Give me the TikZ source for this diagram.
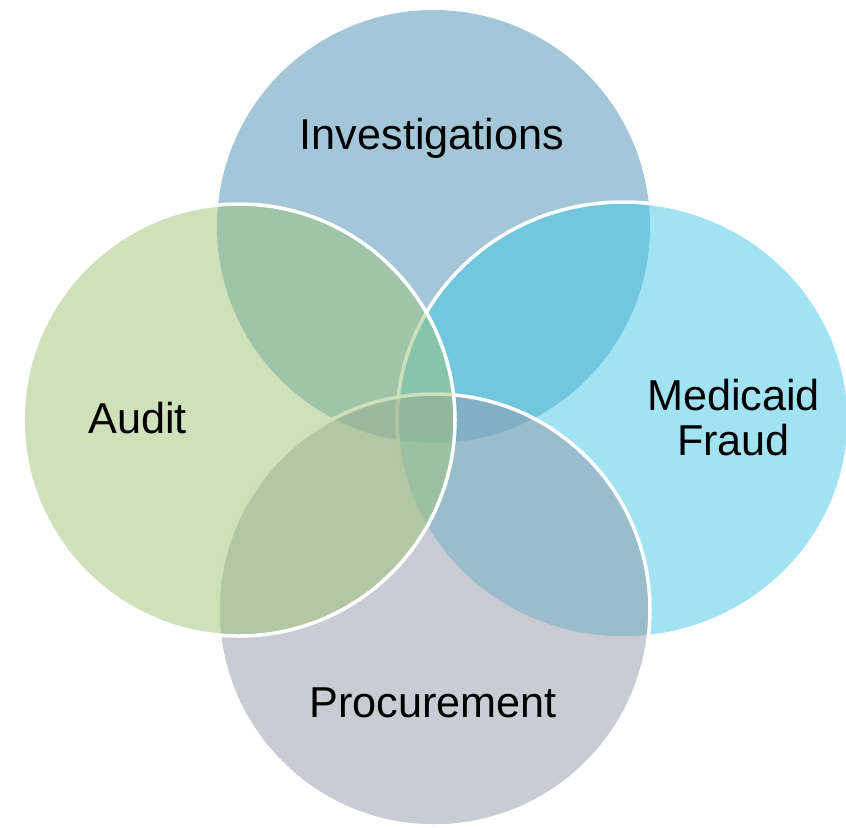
\documentclass[tikz,border=0pt]{standalone}
\usepackage{fontspec}
\setmainfont{Liberation Sans}
\begin{document}
\begin{tikzpicture}[]
			\definecolor{xanh}{RGB}{71,143,179}
			\definecolor{xanhnhat}{RGB}{67,199,229}
			\definecolor{xam}{RGB}{147,153,167}
			\definecolor{xanhla}{RGB}{159,195,119}
			\tikzset{
				vong/.style={fill opacity=0.5,line width=1pt},
				chu/.style={font=\fontsize{12.3}{12.8}\selectfont,text=black,align=center}
			}
			\useasboundingbox (0,0) rectangle (8.46,8.27);
			
			%Vòng tròn: trên, phải, dưới, trái
			\foreach \x/\y/\rx/\ry/\mau/\vien in {
				4.335/6.005/2.165/2.165/xanh/none,
				6.23/4.07/2.26/2.18/xanhnhat/white,
				4.34/2.17/2.16/2.16/xam/white,
				2.39/4.07/2.16/2.16/xanhla/white}{
				\filldraw[vong,fill=\mau,draw=\vien] (\x,\y) ellipse ({\rx} and {\ry});
			}
			
			%Chữ
			\node[chu,anchor=base] (dieutra) at (4.32,6.78) {Investigations};
			\node[chu,anchor=base] (kiemtoan) at (1.375,3.94) {Audit};
			\node[chu] (gianlan) at (7.335,4.09) {Medicaid\\Fraud};
			\node[chu,anchor=base] (muasam) at (4.33,1.10) {Procurement};
		\end{tikzpicture}
\end{document}
